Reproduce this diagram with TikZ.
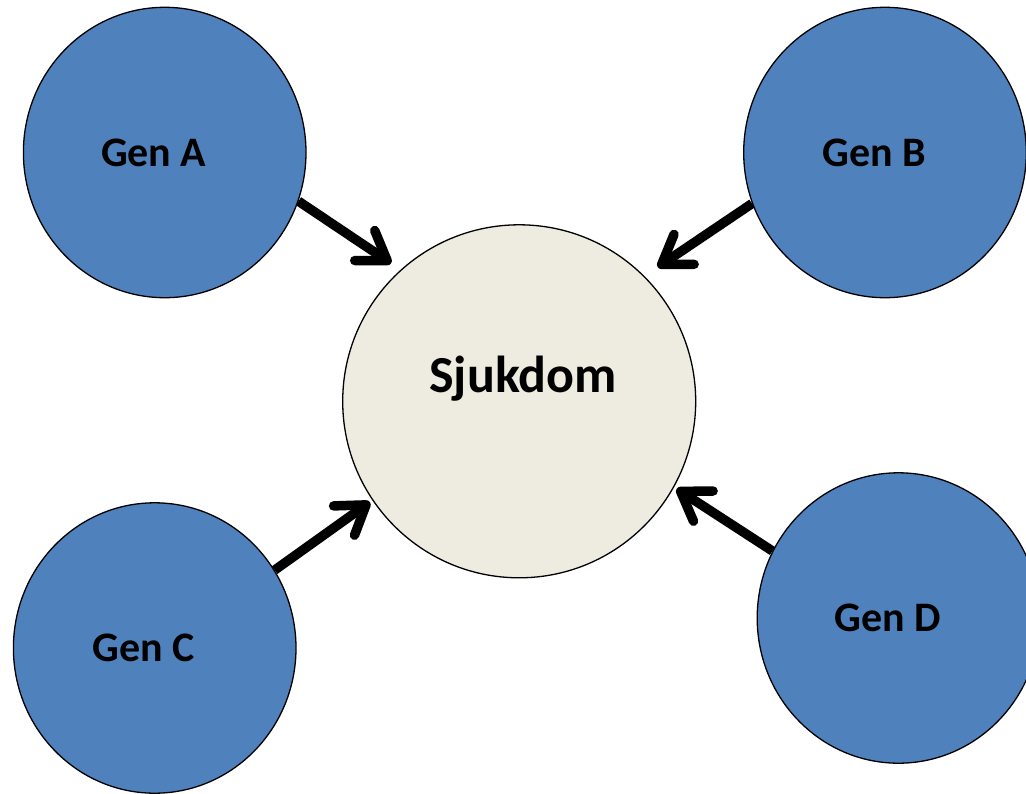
\documentclass[tikz,border=0pt]{standalone}
\usepackage{fontspec}
\setmainfont{Carlito}
\usetikzlibrary{shapes.geometric,arrows.meta}
\definecolor{genblue}{HTML}{4F81BD}
\definecolor{sjukfill}{HTML}{EEECE1}
\newcommand{\genfont}{\bfseries\fontsize{42}{48}\selectfont}
\newcommand{\sjukfont}{\bfseries\fontsize{52}{60}\selectfont}
\tikzset{
gen/.style={ellipse, draw, line width=1.3pt, fill=genblue, minimum width=282.6pt, minimum height=290.4pt, inner sep=0},
arr/.style={line width=9.5pt, -{Straight Barb[length=27pt,width=36pt,round]}}
}
\begin{document}
\begin{tikzpicture}[x=1pt,y=-1pt]
\useasboundingbox (0,0) rectangle (1026,793);
\node[circle, draw, line width=1.3pt, fill=sjukfill, minimum size=353pt, inner sep=0,
label={[font=\sjukfont, xshift=4pt, yshift=23pt]center:Sjukdom}] (sjuk) at (519.2,401.3) {};
\foreach \n/\x/\y/\s/\t/\g in
{A/164.7/152.5/-20.2/132.7/11.5pt,
B/885/152.5/201.3/45.1/16pt,
C/154.7/648/33.5/214.8/3pt,
D/898.5/618/152.1/-29/3pt}{
\node[gen, label={[font=\genfont, xshift=-11pt]center:Gen \n}] (gen\n) at (\x,\y) {};
\draw[arr, shorten >=\g] (gen\n.\s) -- (sjuk.\t);
}
\end{tikzpicture}
\end{document}
